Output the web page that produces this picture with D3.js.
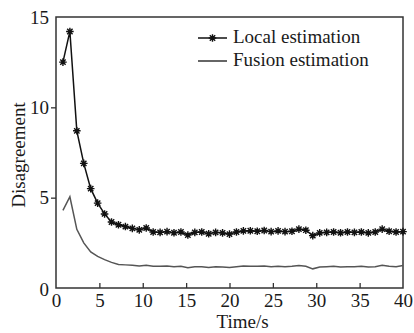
<!DOCTYPE html>
<html>
<head>
<meta charset="utf-8">
<script src="https://cdn.jsdelivr.net/npm/d3@7"></script>
</head>
<body style="margin:0; background:#fff">
<div id="chart"></div>
<script>
// sample times (s)
const times = [0.8, 1.6, 2.4, 3.2, 4.0, 4.8, 5.6, 6.4, 7.2, 8.0,
  8.8, 9.6, 10.4, 11.2, 12.0, 12.8, 13.6, 14.4, 15.2, 16.0,
  16.8, 17.6, 18.4, 19.2, 20.0, 20.8, 21.6, 22.4, 23.2, 24.0,
  24.8, 25.6, 26.4, 27.2, 28.0, 28.8, 29.6, 30.4, 31.2, 32.0,
  32.8, 33.6, 34.4, 35.2, 36.0, 36.8, 37.6, 38.4, 39.2, 40.0];

const localEst = [12.5, 14.2, 8.7, 6.9, 5.5, 4.7, 4.1, 3.65, 3.5, 3.4,
  3.3, 3.22, 3.32, 3.1, 3.08, 3.12, 3.06, 3.1, 2.93, 3.08,
  3.1, 3.0, 3.08, 3.05, 2.98, 3.1, 3.16, 3.17, 3.14, 3.18,
  3.12, 3.16, 3.12, 3.14, 3.26, 3.2, 2.9, 3.05, 3.08, 3.1,
  3.06, 3.1, 3.08, 3.1, 3.05, 3.1, 3.26, 3.14, 3.1, 3.12];

const fusionEst = [4.3, 5.05, 3.25, 2.5, 2.0, 1.75, 1.57, 1.42, 1.3, 1.28,
  1.26, 1.22, 1.26, 1.2, 1.2, 1.22, 1.18, 1.2, 1.12, 1.18,
  1.18, 1.14, 1.17, 1.16, 1.14, 1.18, 1.22, 1.2, 1.2, 1.22,
  1.18, 1.2, 1.18, 1.2, 1.24, 1.2, 1.06, 1.16, 1.18, 1.2,
  1.16, 1.18, 1.17, 1.2, 1.16, 1.18, 1.26, 1.2, 1.18, 1.24];

const xTicks = [0, 5, 10, 15, 20, 25, 30, 35, 40];
const yTicks = [0, 5, 10, 15];
const seriesNames = ['Local estimation', 'Fusion estimation'];

const W = 414, H = 333;
const margin = { top: 17, right: 11, bottom: 45, left: 56 };
const width = W - margin.left - margin.right;
const height = H - margin.top - margin.bottom;
const font = '"Liberation Serif"';
const fontSize = 19;
const textColor = '#1a1a1a';
const axisColor = '#333';

const svg = d3.select('#chart').append('svg')
  .attr('width', W)
  .attr('height', H)
  .style('display', 'block');

const g = svg.append('g')
  .attr('transform', `translate(${margin.left},${margin.top})`);

const x = d3.scaleLinear().domain([0, 40]).range([0, width]);
const y = d3.scaleLinear().domain([0, 15]).range([height, 0]);

// text helper so every label gets the same serif face
const serif = (sel) => sel
  .style('font-family', font)
  .attr('font-size', fontSize)
  .attr('fill', textColor);

// frame
g.append('rect')
  .attr('x', 0).attr('y', 0)
  .attr('width', width).attr('height', height)
  .attr('fill', 'none')
  .attr('stroke', axisColor)
  .attr('stroke-width', 1.5);

// bottom axis, ticks pointing in
const xAxis = g.append('g')
  .attr('transform', `translate(0,${height})`)
  .call(d3.axisBottom(x).tickValues(xTicks).tickSizeInner(-5).tickSizeOuter(0).tickPadding(6));
xAxis.select('.domain').remove();
xAxis.selectAll('line').attr('stroke', axisColor).attr('stroke-width', 1.3)
  .filter(d => d === 0 || d === 40).remove();
xAxis.selectAll('text').call(serif);

// left axis, ticks pointing out
const yAxis = g.append('g')
  .call(d3.axisLeft(y).tickValues(yTicks).tickSizeInner(5).tickSizeOuter(0).tickPadding(2));
yAxis.select('.domain').remove();
yAxis.selectAll('line').attr('stroke', axisColor).attr('stroke-width', 1.3)
  .filter(d => d === 0 || d === 15).remove();
yAxis.selectAll('text').call(serif)
  .attr('dy', d => d === 0 ? '0.42em' : '0.32em');

// axis titles
g.append('text')
  .attr('x', x(21.5))
  .attr('y', 328 - margin.top)
  .attr('text-anchor', 'middle')
  .call(serif)
  .text('Time/s');

g.append('text')
  .attr('transform', 'rotate(-90)')
  .attr('x', -(155 - margin.top))
  .attr('y', 25 - margin.left)
  .attr('text-anchor', 'middle')
  .call(serif)
  .text('Disagreement');

const fusionData = times.map((t, i) => ({ t, v: fusionEst[i] }));
const localData = times.map((t, i) => ({ t, v: localEst[i] }));

const line = d3.line().x(d => x(d.t)).y(d => y(d.v));

g.append('path')
  .datum(fusionData)
  .attr('d', line)
  .attr('fill', 'none')
  .attr('stroke', '#555')
  .attr('stroke-width', 1.5);

g.append('path')
  .datum(localData)
  .attr('d', line)
  .attr('fill', 'none')
  .attr('stroke', '#111')
  .attr('stroke-width', 1.5);

// asterisk marker
const starPath = (r) => {
  let p = '';
  for (let k = 0; k < 4; k++) {
    const a = k * Math.PI / 4;
    const dx = r * Math.cos(a), dy = r * Math.sin(a);
    p += `M${-dx},${-dy}L${dx},${dy}`;
  }
  return p;
};

g.selectAll('.star')
  .data(localData)
  .join('path')
  .attr('class', 'star')
  .attr('transform', d => `translate(${x(d.t)},${y(d.v)})`)
  .attr('d', starPath(3.8))
  .attr('stroke', '#111')
  .attr('stroke-width', 1.4)
  .attr('fill', 'none');

// legend
const legend = g.append('g').attr('transform', `translate(${198 - margin.left},${38 - margin.top})`);
seriesNames.forEach((name, i) => {
  const row = legend.append('g').attr('transform', `translate(0,${i * 23})`);
  row.append('line')
    .attr('x1', 0).attr('x2', 29)
    .attr('y1', 0).attr('y2', 0)
    .attr('stroke', i === 0 ? '#111' : '#333')
    .attr('stroke-width', 1.5);
  if (i === 0) {
    row.append('path')
      .attr('transform', 'translate(14.5,0)')
      .attr('d', starPath(3.8))
      .attr('stroke', '#111')
      .attr('stroke-width', 1.4);
  }
  row.append('text')
    .attr('x', 35)
    .attr('y', 5)
    .call(serif)
    .text(name);
});
</script>
</body>
</html>
